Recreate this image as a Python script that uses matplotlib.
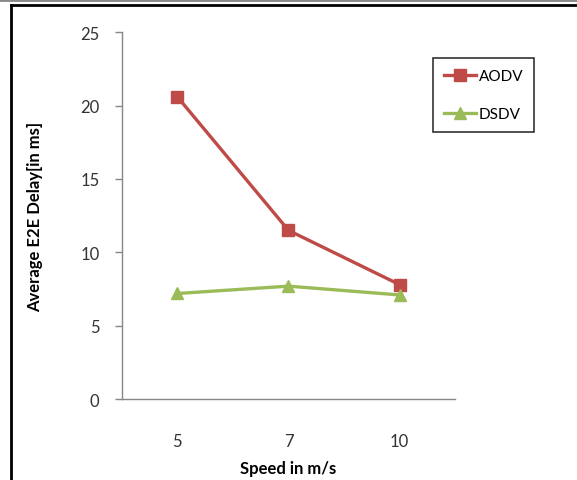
import matplotlib.pyplot as plt
from matplotlib.lines import Line2D

speeds = ['5', '7', '10']
aodv = [20.6, 11.5, 7.8]
dsdv = [7.2, 7.7, 7.1]

plt.rcParams['font.family'] = ['Lato', 'DejaVu Sans']

fig = plt.figure(figsize=(5.77, 4.81), dpi=100)
ax = fig.add_axes([0.211, 0.168, 0.578, 0.763])

x = range(len(speeds))
ax.plot(x, aodv, color='#BE4B48', marker='s', markersize=9, linewidth=2.4, label='AODV')
ax.plot(x, dsdv, color='#9BBB59', marker='^', markersize=9, linewidth=2.4, label='DSDV')

ax.set_xlim(-0.5, 2.5)
ax.set_ylim(0, 25)
ax.set_yticks([0, 5, 10, 15, 20, 25])
ax.set_xticks(list(x))
ax.set_xticklabels(speeds)
ax.tick_params(axis='x', length=0, pad=24, labelsize=12, colors='#333333')
ax.tick_params(axis='y', length=5, width=1, color='#868686', pad=11, labelsize=12, labelcolor='#333333')
for s in ['top', 'right']:
    ax.spines[s].set_visible(False)
for s in ['left', 'bottom']:
    ax.spines[s].set_color('#868686')
    ax.spines[s].set_linewidth(1)

ax.set_xlabel('Speed in m/s', fontsize=12, fontweight='bold', labelpad=8)
ax.set_ylabel('Average E2E Delay[in ms]', fontsize=12, fontweight='bold', labelpad=27)

leg = ax.legend(loc='upper left', bbox_to_anchor=(0.934, 0.929), frameon=True, fancybox=False,
                edgecolor='black', fontsize=11, labelspacing=1.6, borderpad=0.7,
                handlelength=2.1, handletextpad=0.2, borderaxespad=0)
leg.get_frame().set_linewidth(1.2)

# page frame
fig.add_artist(Line2D([0, 1], [0.998, 0.998], color='#888888', linewidth=2, transform=fig.transFigure))
fig.add_artist(Line2D([11 / 577, 1], [1 - 6 / 481, 1 - 6 / 481], color='black', linewidth=2, transform=fig.transFigure))
fig.add_artist(Line2D([11 / 577, 11 / 577], [0, 1 - 6 / 481], color='black', linewidth=2, transform=fig.transFigure))

fig.savefig('out.png', dpi=100)
